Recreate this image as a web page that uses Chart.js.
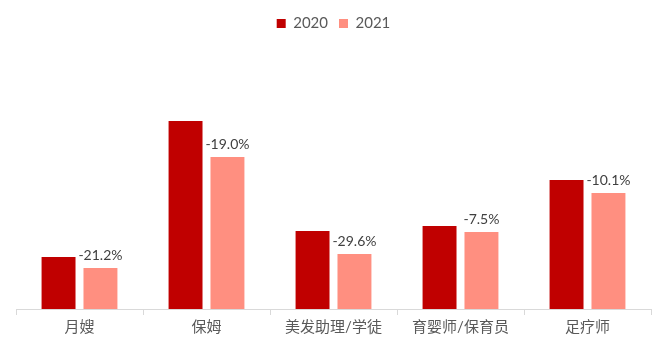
<!DOCTYPE html>
<html>
<head>
<meta charset="utf-8">
<script src="https://cdn.jsdelivr.net/npm/chart.js@4"></script>
<style>
  body { margin: 0; background: #fff; }
  #wrap { width: 664px; height: 354px; }
</style>
</head>
<body>
<div id="wrap"><canvas id="myChart"></canvas></div>
<script>
// categories
const categories = ['月嫂', '保姆', '美发助理/学徒', '育婴师/保育员', '足疗师'];
// series values (relative)
const values2020 = [52, 188, 78, 83, 129];
const values2021 = [41, 152, 55, 77, 116];
// change labels shown above the 2021 bars
const changeLabels = ['-21.2%', '-19.0%', '-29.6%', '-7.5%', '-10.1%'];

const fontFamily = "Lato, 'Noto Sans CJK SC', sans-serif";

// draw the % text above each 2021 bar
const changePlugin = {
    id: 'changeLabels',
    afterDatasetsDraw(chart) {
        const ctx = chart.ctx;
        const meta = chart.getDatasetMeta(1);
        ctx.save();
        ctx.font = '14px ' + fontFamily;
        ctx.fillStyle = '#404040';
        ctx.textAlign = 'center';
        ctx.textBaseline = 'bottom';
        meta.data.forEach((bar, i) => {
            ctx.fillText(changeLabels[i], bar.x, bar.y - 6);
        });
        ctx.restore();
    }
};

const info = {
    labels: categories,
    datasets: [
        {
            label: '2020',
            data: values2020,
            backgroundColor: '#C00000',
            categoryPercentage: 0.66,
            barPercentage: 0.81
        },
        {
            label: '2021',
            data: values2021,
            backgroundColor: '#FF8F80',
            categoryPercentage: 0.66,
            barPercentage: 0.81
        }
    ]
};

const options = {
    responsive: true,
    maintainAspectRatio: false,
    animation: false,
    layout: {
        padding: { left: 16, right: 13, top: 5, bottom: 15 }
    },
    scales: {
        y: {
            display: false,
            min: 0,
            max: 268
        },
        x: {
            grid: {
                drawOnChartArea: false,
                drawTicks: true,
                tickLength: 6,
                color: '#D9D9D9'
            },
            border: { color: '#D9D9D9' },
            ticks: {
                color: '#595959',
                font: { size: 15, family: fontFamily },
                padding: 3
            }
        }
    },
    plugins: {
        legend: {
            labels: {
                boxWidth: 9,
                boxHeight: 9,
                color: '#595959',
                font: { size: 15, family: fontFamily },
                padding: 11
            }
        },
        tooltip: { enabled: false }
    }
};

const config = {
    type: 'bar',
    data: info,
    options,
    plugins: [changePlugin]
};

new Chart(document.getElementById('myChart'), config);
</script>
</body>
</html>
